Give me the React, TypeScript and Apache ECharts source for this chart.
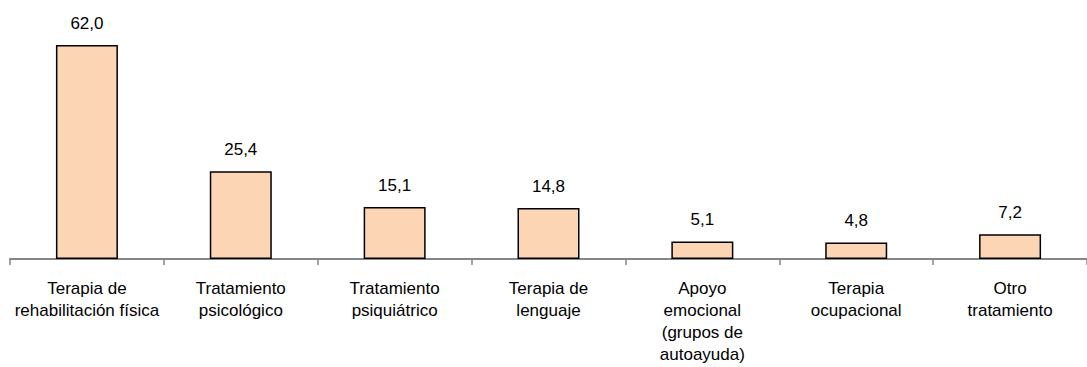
import React, { useEffect, useRef } from "react";
import * as echarts from "echarts";

const categories = [
  "Terapia de\nrehabilitación física",
  "Tratamiento\npsicológico",
  "Tratamiento\npsiquiátrico",
  "Terapia de\nlenguaje",
  "Apoyo\nemocional\n(grupos de\nautoayuda)",
  "Terapia\nocupacional",
  "Otro\ntratamiento",
];
const values = [62.0, 25.4, 15.1, 14.8, 5.1, 4.8, 7.2];

const FONT = "'Liberation Sans Narrow', 'Arial Narrow', 'Liberation Sans', Arial, sans-serif";

export default function App() {
  const ref = useRef<HTMLDivElement>(null);
  useEffect(() => {
    if (!ref.current) return;
    const chart = echarts.init(ref.current, undefined, { renderer: "svg" });
    chart.setOption({
      animation: false,
      grid: { left: 10, right: -5, top: 45, bottom: 108, containLabel: false },
      xAxis: {
        type: "category",
        data: categories,
        axisLine: { lineStyle: { color: "#868686", width: 2 } },
        axisTick: { show: true, length: 6, lineStyle: { color: "#868686", width: 1.5 } },
        axisLabel: {
          interval: 0,
          margin: 18,
          fontFamily: FONT,
          fontSize: 17,
          lineHeight: 22,
          color: "#000",
          align: "center",
        },
      },
      yAxis: {
        type: "value",
        min: 0,
        max: 62,
        show: false,
        splitLine: { show: false },
      },
      series: [
        {
          type: "bar",
          data: values,
          barWidth: 62,
          itemStyle: { color: "#FCD5B5", borderColor: "#000", borderWidth: 1.5 },
          label: {
            show: true,
            position: "top",
            distance: 13,
            fontFamily: FONT,
            fontSize: 17,
            color: "#000",
            formatter: (p: any) => p.value.toFixed(1).replace(".", ","),
          },
        },
      ],
    });
    return () => chart.dispose();
  }, []);
  return (
    <div
      ref={ref}
      style={{ position: "fixed", left: 0, top: 0, width: 1087, height: 367, background: "#fff" }}
    />
  );
}
